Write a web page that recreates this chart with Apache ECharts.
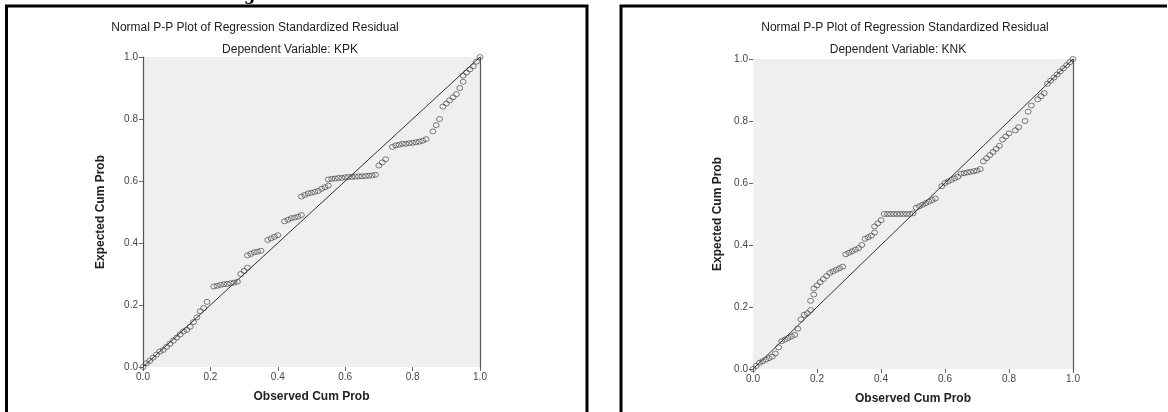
<!DOCTYPE html>
<html>
<head>
<meta charset="utf-8">
<script src="https://cdn.jsdelivr.net/npm/echarts@6/dist/echarts.min.js"></script>
<style>
  html, body { margin: 0; padding: 0; background: #fff; }
  #chart { width: 1168px; height: 412px; }
</style>
</head>
<body>
<div id="chart"></div>
<script>
// tick values for both axes
const TICKS = [0.0, 0.2, 0.4, 0.6, 0.8, 1.0];
const REF_LINE = [0, 1];

// Dependent variable KPK (left panel)
const kpkObserved = [0.00, 0.01, 0.02, 0.03, 0.04, 0.05, 0.06, 0.07, 0.08, 0.09, 0.10, 0.11, 0.12, 0.13, 0.14, 0.15, 0.16, 0.17, 0.18, 0.19,
  0.21, 0.22, 0.23, 0.24, 0.25, 0.26, 0.27, 0.28, 0.29, 0.30, 0.31,
  0.31, 0.32, 0.33, 0.34, 0.35, 0.37, 0.38, 0.39, 0.40,
  0.42, 0.43, 0.44, 0.45, 0.46, 0.47,
  0.47, 0.48, 0.49, 0.50, 0.51, 0.52, 0.53, 0.54, 0.55,
  0.55, 0.56, 0.57, 0.58, 0.59, 0.60, 0.61, 0.62, 0.63, 0.64, 0.65, 0.66, 0.67, 0.68, 0.69,
  0.70, 0.71, 0.72,
  0.74, 0.75, 0.76, 0.77, 0.78, 0.79, 0.80, 0.81, 0.82, 0.83, 0.84,
  0.86, 0.87, 0.88,
  0.89, 0.90, 0.91, 0.92, 0.93, 0.94, 0.95,
  0.95, 0.96, 0.97, 0.98, 0.99, 1.00];
const kpkExpected = [0.000, 0.012, 0.020, 0.030, 0.040, 0.050, 0.055, 0.065, 0.075, 0.085, 0.095, 0.105, 0.115, 0.120, 0.130, 0.145, 0.160, 0.180, 0.190, 0.210,
  0.260, 0.262, 0.265, 0.267, 0.268, 0.270, 0.272, 0.275, 0.300, 0.310, 0.320,
  0.360, 0.365, 0.370, 0.372, 0.375, 0.410, 0.415, 0.420, 0.425,
  0.470, 0.475, 0.480, 0.482, 0.485, 0.490,
  0.550, 0.555, 0.560, 0.562, 0.565, 0.568, 0.575, 0.580, 0.585,
  0.605, 0.607, 0.608, 0.610, 0.610, 0.612, 0.613, 0.613, 0.614, 0.615, 0.615, 0.616, 0.617, 0.618, 0.620,
  0.650, 0.660, 0.670,
  0.710, 0.715, 0.717, 0.720, 0.720, 0.722, 0.723, 0.725, 0.727, 0.730, 0.735,
  0.760, 0.780, 0.800,
  0.840, 0.850, 0.860, 0.870, 0.880, 0.900, 0.920,
  0.940, 0.950, 0.960, 0.970, 0.985, 1.000];

// Dependent variable KNK (right panel)
const knkObserved = [0.00, 0.01, 0.02, 0.03, 0.04, 0.05, 0.06, 0.07, 0.08, 0.09, 0.10, 0.11, 0.12, 0.13, 0.14, 0.15, 0.16, 0.17, 0.18,
  0.18, 0.19, 0.19, 0.20, 0.21, 0.22, 0.23, 0.24, 0.25, 0.26, 0.27, 0.28,
  0.29, 0.30, 0.31, 0.32, 0.33, 0.34,
  0.35, 0.36, 0.37, 0.38,
  0.38, 0.39, 0.40,
  0.41, 0.42, 0.43, 0.44, 0.45, 0.46, 0.47, 0.48, 0.49, 0.50,
  0.51, 0.52, 0.53, 0.54, 0.55, 0.56, 0.57,
  0.59, 0.60, 0.61, 0.62, 0.63, 0.64,
  0.65, 0.66, 0.67, 0.68, 0.69, 0.70, 0.71,
  0.72, 0.73, 0.74, 0.75, 0.76, 0.77,
  0.78, 0.79, 0.80, 0.82, 0.83, 0.85,
  0.86, 0.87, 0.89, 0.90, 0.91,
  0.92, 0.93, 0.94, 0.95, 0.96, 0.97, 0.98, 0.99, 1.00];
const knkExpected = [0.000, 0.010, 0.020, 0.025, 0.030, 0.035, 0.040, 0.050, 0.070, 0.090, 0.095, 0.100, 0.105, 0.110, 0.130, 0.160, 0.175, 0.180, 0.190,
  0.220, 0.240, 0.260, 0.270, 0.280, 0.290, 0.300, 0.310, 0.315, 0.320, 0.325, 0.330,
  0.370, 0.375, 0.380, 0.385, 0.390, 0.400,
  0.420, 0.425, 0.430, 0.440,
  0.460, 0.470, 0.480,
  0.500, 0.500, 0.500, 0.500, 0.500, 0.500, 0.500, 0.500, 0.500, 0.502,
  0.520, 0.525, 0.530, 0.535, 0.540, 0.545, 0.550,
  0.590, 0.600, 0.605, 0.610, 0.615, 0.620,
  0.630, 0.632, 0.634, 0.636, 0.638, 0.640, 0.645,
  0.670, 0.680, 0.690, 0.700, 0.710, 0.720,
  0.740, 0.750, 0.760, 0.770, 0.780, 0.800,
  0.830, 0.850, 0.870, 0.880, 0.890,
  0.920, 0.930, 0.940, 0.950, 0.960, 0.970, 0.980, 0.990, 1.000];

function zip(xs, ys) {
  return xs.map(function (x, i) { return [x, ys[i]]; });
}

const FONT = 'Liberation Sans, Arial, sans-serif';

function valueAxis(gridIndex, showLine) {
  return {
    type: 'value', gridIndex: gridIndex, min: TICKS[0], max: TICKS[TICKS.length - 1], interval: 0.2,
    axisLine: { show: showLine, lineStyle: { color: '#555', width: 1.2 } },
    axisTick: { show: true, length: 4, lineStyle: { color: '#666' } },
    axisLabel: { fontSize: 10, color: '#444', fontFamily: FONT, margin: 5,
      formatter: function (v) { return v.toFixed(1); } },
    splitLine: { show: false }
  };
}

function xAxisFor(gridIndex) {
  let ax = valueAxis(gridIndex, false);
  ax.name = 'Observed Cum Prob';
  ax.nameLocation = 'middle';
  ax.nameGap = 24;
  ax.nameTextStyle = { fontSize: 12, fontWeight: 'bold', color: '#222', fontFamily: FONT };
  return ax;
}

function yAxisFor(gridIndex, showLine, gap) {
  let ax = valueAxis(gridIndex, showLine);
  ax.name = 'Expected Cum Prob';
  ax.nameLocation = 'middle';
  ax.nameGap = gap;
  ax.nameTextStyle = { fontSize: 12, fontWeight: 'bold', color: '#222', fontFamily: FONT };
  return ax;
}

function rightEdge(gridIndex) {
  return {
    type: 'value', gridIndex: gridIndex, position: 'right', min: 0, max: 1,
    axisLine: { show: true, lineStyle: { color: '#555', width: 1.2 } },
    axisTick: { show: false }, axisLabel: { show: false }, splitLine: { show: false }
  };
}

function pointSeries(xIdx, yIdx, data) {
  return {
    type: 'scatter', xAxisIndex: xIdx, yAxisIndex: yIdx, data: data,
    symbol: 'circle', symbolSize: [6, 5],
    itemStyle: { color: 'rgba(0,0,0,0)', borderColor: '#3a3a3a', borderWidth: 0.8 },
    silent: true, z: 3
  };
}

function refSeries(xIdx, yIdx) {
  return {
    type: 'line', xAxisIndex: xIdx, yAxisIndex: yIdx,
    data: zip(REF_LINE, REF_LINE), symbol: 'none',
    lineStyle: { color: '#333', width: 1 }, silent: true, z: 2
  };
}

const titleStyle = { fontSize: 12, fontWeight: 'normal', color: '#222', fontFamily: FONT };

let chart = echarts.init(document.getElementById('chart'), null, { renderer: 'canvas' });
chart.setOption({
  animation: false,
  backgroundColor: '#fff',
  title: [
    { text: 'Normal P-P Plot of Regression Standardized Residual', left: 250, top: 17, textAlign: 'center', textStyle: titleStyle },
    { text: 'Dependent Variable: KPK', left: 285, top: 39, textAlign: 'center', textStyle: titleStyle },
    { text: 'Normal P-P Plot of Regression Standardized Residual', left: 900, top: 17, textAlign: 'center', textStyle: titleStyle },
    { text: 'Dependent Variable: KNK', left: 893, top: 39, textAlign: 'center', textStyle: titleStyle }
  ],
  grid: [
    { left: 143, top: 57, width: 337, height: 310, show: true, backgroundColor: '#efefef', borderWidth: 0 },
    { left: 753, top: 59, width: 320, height: 310, show: true, backgroundColor: '#efefef', borderWidth: 0 }
  ],
  xAxis: [xAxisFor(0), xAxisFor(1)],
  yAxis: [yAxisFor(0, true, 36), yAxisFor(1, false, 29), rightEdge(0), rightEdge(1)],
  series: [
    refSeries(0, 0),
    pointSeries(0, 0, zip(kpkObserved, kpkExpected)),
    refSeries(1, 1),
    pointSeries(1, 1, zip(knkObserved, knkExpected))
  ],
  graphic: [
    // panel frames
    { type: 'polyline', shape: { points: [[6.5, 412], [6.5, 6], [587, 6], [587, 412]] },
      style: { stroke: '#000', lineWidth: 3, fill: null } },
    { type: 'polyline', shape: { points: [[621, 412], [621, 6], [1167, 6]] },
      style: { stroke: '#000', lineWidth: 3, fill: null } },
    // descender of caption text cut off above the frame
    { type: 'text', left: 244, top: -12,
      style: { text: 'g', fontSize: 16, fontWeight: 'bold', fontFamily: 'DejaVu Serif', fill: '#000' } }
  ]
});

window.addEventListener('resize', function () {
  chart.resize();
});
</script>
</body>
</html>
